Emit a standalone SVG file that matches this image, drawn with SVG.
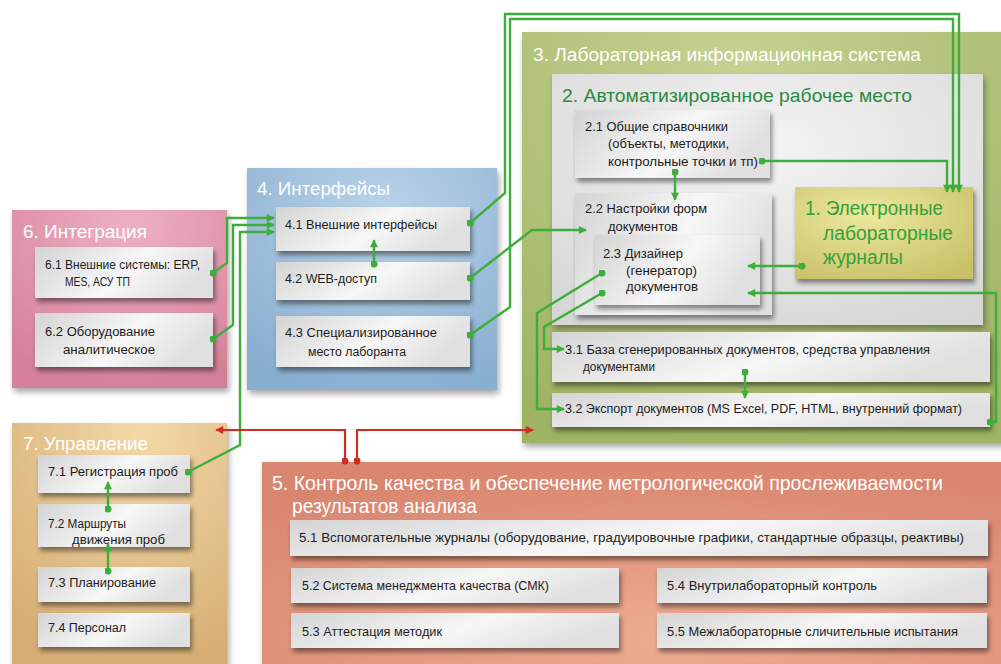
<svg xmlns="http://www.w3.org/2000/svg" width="1001" height="664" viewBox="0 0 1001 664">
<style>
text{font-family:"Liberation Sans",Arial,sans-serif}
.t{font-size:12px;fill:#1c1c1c}
.t5{font-size:13px;fill:#1c1c1c}
.ttl{font-size:18px;fill:#ffffff}
.g{fill:none;stroke:#3cae3a;stroke-width:2.4;stroke-linejoin:miter;marker-start:url(#dot);marker-end:url(#arr)}
.r{fill:none;stroke:#d42a22;stroke-width:2.2;marker-start:url(#rdot);marker-end:url(#rarr)}
.box{fill:url(#boxg);filter:url(#sh)}
.pan{filter:url(#psh)}
</style>
<defs>
<linearGradient id="boxg" x1="0" y1="0" x2="1" y2="0.3">
<stop offset="0" stop-color="#d4d4d4"/><stop offset="0.6" stop-color="#f7f7f7"/><stop offset="1" stop-color="#e0e0e0"/>
</linearGradient>
<radialGradient id="g3" cx="0.45" cy="0.1" r="0.9"><stop offset="0" stop-color="#c6d292"/><stop offset="1" stop-color="#9fb364"/></radialGradient>
<radialGradient id="g2" cx="0.5" cy="0.3" r="0.8"><stop offset="0" stop-color="#f4f4f4"/><stop offset="1" stop-color="#d6d6d6"/></radialGradient>
<radialGradient id="g4" cx="0.55" cy="0.2" r="0.85"><stop offset="0" stop-color="#b9d3e8"/><stop offset="1" stop-color="#88aed0"/></radialGradient>
<radialGradient id="g6" cx="0.55" cy="0.1" r="0.9"><stop offset="0" stop-color="#eeb0c2"/><stop offset="1" stop-color="#d48098"/></radialGradient>
<radialGradient id="g7" cx="0.6" cy="0.05" r="0.9"><stop offset="0" stop-color="#f3d9a8"/><stop offset="1" stop-color="#d6ae74"/></radialGradient>
<radialGradient id="g5" cx="0.55" cy="0.8" r="0.8"><stop offset="0" stop-color="#eeac92"/><stop offset="1" stop-color="#d98670"/></radialGradient>
<radialGradient id="g1" cx="0.4" cy="0.3" r="0.8"><stop offset="0" stop-color="#ece89e"/><stop offset="1" stop-color="#c9c168"/></radialGradient>
<filter id="sh" x="-10%" y="-20%" width="125%" height="150%"><feDropShadow dx="2" dy="4" stdDeviation="2.5" flood-color="#000" flood-opacity="0.45"/></filter>
<filter id="psh" x="-10%" y="-10%" width="125%" height="125%"><feDropShadow dx="2" dy="4" stdDeviation="3" flood-color="#000" flood-opacity="0.35"/></filter>
<marker id="arr" viewBox="0 0 10 10" refX="9" refY="5" markerUnits="userSpaceOnUse" markerWidth="9" markerHeight="8" orient="auto"><path d="M0,0 L10,5 L0,10 z" fill="#3cae3a"/></marker>
<marker id="dot" viewBox="0 0 10 10" refX="5" refY="5" markerUnits="userSpaceOnUse" markerWidth="7" markerHeight="7"><circle cx="5" cy="5" r="5" fill="#3cae3a"/></marker>
<marker id="rarr" viewBox="0 0 10 10" refX="9" refY="5" markerUnits="userSpaceOnUse" markerWidth="9" markerHeight="8" orient="auto"><path d="M0,0 L10,5 L0,10 z" fill="#d42a22"/></marker>
<marker id="rdot" viewBox="0 0 10 10" refX="5" refY="5" markerUnits="userSpaceOnUse" markerWidth="7" markerHeight="7"><circle cx="5" cy="5" r="5" fill="#d42a22"/></marker>
</defs>
<rect width="1001" height="664" fill="#ffffff"/>

<g id="panel3">
<rect class="pan" x="522" y="32" width="490" height="411" fill="url(#g3)"/>
<text class="ttl" x="533" y="61" textLength="388" lengthAdjust="spacingAndGlyphs">3. Лабораторная информационная система</text>
</g>
<g id="panel2">
<rect class="pan" x="552" y="74" width="431" height="251" fill="url(#g2)"/>
<text x="562" y="102" font-size="19" fill="#2b8a3e" textLength="350" lengthAdjust="spacingAndGlyphs">2. Автоматизированное рабочее место</text>
</g>
<g id="node2-1">
<rect class="box" x="575" y="110" width="195" height="68"/>
<text class="t" x="585" y="131" textLength="143" lengthAdjust="spacingAndGlyphs">2.1 Общие справочники</text>
<text class="t" x="608" y="148" textLength="121" lengthAdjust="spacingAndGlyphs">(объекты, методики,</text>
<text class="t" x="608" y="166" textLength="150" lengthAdjust="spacingAndGlyphs">контрольные точки и тп)</text>
</g>
<g id="node2-2">
<rect class="box" x="575" y="193" width="197" height="122"/>
<text class="t" x="585" y="213" textLength="122" lengthAdjust="spacingAndGlyphs">2.2 Настройки форм</text>
<text class="t" x="608" y="231" textLength="70" lengthAdjust="spacingAndGlyphs">документов</text>
</g>
<g id="node2-3">
<rect class="box" x="595" y="235" width="165" height="70"/>
<text class="t" x="603" y="258" textLength="80" lengthAdjust="spacingAndGlyphs">2.3 Дизайнер</text>
<text class="t" x="626" y="275" textLength="71" lengthAdjust="spacingAndGlyphs">(генератор)</text>
<text class="t" x="626" y="291" textLength="72" lengthAdjust="spacingAndGlyphs">документов</text>
</g>
<g id="node1">
<rect x="795" y="187" width="178" height="92" fill="url(#g1)" filter="url(#sh)"/>
<text x="805" y="215" font-size="20" fill="#34a03c" textLength="138" lengthAdjust="spacingAndGlyphs">1. Электронные</text>
<text x="823" y="240" font-size="20" fill="#34a03c" textLength="130" lengthAdjust="spacingAndGlyphs">лабораторные</text>
<text x="823" y="264" font-size="20" fill="#34a03c" textLength="80" lengthAdjust="spacingAndGlyphs">журналы</text>
</g>
<g id="node3-1">
<rect class="box" x="552" y="332" width="438" height="50"/>
<text class="t" x="565" y="354" textLength="365" lengthAdjust="spacingAndGlyphs">3.1 База сгенерированных документов, средства управления</text>
<text class="t" x="583" y="371" textLength="72" lengthAdjust="spacingAndGlyphs">документами</text>
</g>
<g id="node3-2">
<rect class="box" x="552" y="393" width="438" height="34"/>
<text class="t" x="565" y="413" textLength="397" lengthAdjust="spacingAndGlyphs">3.2 Экспорт документов (MS Excel, PDF, HTML, внутренний формат)</text>
</g>

<g id="panel4">
<rect class="pan" x="247" y="168" width="250" height="222" fill="url(#g4)"/>
<text class="ttl" x="257" y="195" textLength="133" lengthAdjust="spacingAndGlyphs">4. Интерфейсы</text>
</g>
<g id="node4-1"><rect class="box" x="276" y="207" width="194" height="44"/>
<text class="t" x="285" y="229" textLength="152" lengthAdjust="spacingAndGlyphs">4.1 Внешние интерфейсы</text></g>
<g id="node4-2"><rect class="box" x="276" y="262" width="194" height="38"/>
<text class="t" x="285" y="283" textLength="92" lengthAdjust="spacingAndGlyphs">4.2 WEB-доступ</text></g>
<g id="node4-3"><rect class="box" x="276" y="316" width="194" height="51"/>
<text class="t" x="285" y="337" textLength="152" lengthAdjust="spacingAndGlyphs">4.3 Специализированное</text>
<text class="t" x="308" y="356" textLength="98" lengthAdjust="spacingAndGlyphs">место лаборанта</text></g>

<g id="panel6">
<rect class="pan" x="12" y="210" width="215" height="178" fill="url(#g6)"/>
<text class="ttl" x="23" y="238" textLength="124" lengthAdjust="spacingAndGlyphs">6. Интеграция</text>
</g>
<g id="node6-1"><rect class="box" x="35" y="247" width="178" height="51"/>
<text class="t" x="45" y="269" textLength="155" lengthAdjust="spacingAndGlyphs">6.1 Внешние системы: ERP,</text>
<text class="t" x="65" y="286" textLength="65" lengthAdjust="spacingAndGlyphs">MES, АСУ ТП</text></g>
<g id="node6-2"><rect class="box" x="35" y="313" width="178" height="54"/>
<text class="t" x="45" y="336" textLength="110" lengthAdjust="spacingAndGlyphs">6.2 Оборудование</text>
<text class="t" x="63" y="354" textLength="92" lengthAdjust="spacingAndGlyphs">аналитическое</text></g>

<g id="panel7">
<rect class="pan" x="12" y="423" width="215" height="260" fill="url(#g7)"/>
<text class="ttl" x="23" y="450" textLength="125" lengthAdjust="spacingAndGlyphs">7. Управление</text>
</g>
<g id="node7-1"><rect class="box" x="38" y="455" width="152" height="38"/>
<text class="t" x="48" y="476" textLength="130" lengthAdjust="spacingAndGlyphs">7.1 Регистрация проб</text></g>
<g id="node7-2"><rect class="box" x="38" y="504" width="152" height="43"/>
<text class="t" x="48" y="528" textLength="78" lengthAdjust="spacingAndGlyphs">7.2 Маршруты</text>
<text class="t" x="72" y="544" textLength="93" lengthAdjust="spacingAndGlyphs">движения проб</text></g>
<g id="node7-3"><rect class="box" x="38" y="567" width="152" height="35"/>
<text class="t" x="48" y="587" textLength="108" lengthAdjust="spacingAndGlyphs">7.3 Планирование</text></g>
<g id="node7-4"><rect class="box" x="38" y="613" width="152" height="34"/>
<text class="t" x="48" y="632" textLength="78" lengthAdjust="spacingAndGlyphs">7.4 Персонал</text></g>

<g id="panel5">
<rect class="pan" x="262" y="462" width="750" height="220" fill="url(#g5)"/>
<text x="272" y="490" font-size="21" fill="#ffffff" textLength="671" lengthAdjust="spacingAndGlyphs">5. Контроль качества и обеспечение метрологической прослеживаемости</text>
<text x="292" y="513" font-size="21" fill="#ffffff" textLength="185" lengthAdjust="spacingAndGlyphs">результатов анализа</text>
</g>
<g id="node5-1"><rect class="box" x="290" y="520" width="698" height="36"/>
<text class="t5" x="299" y="542" textLength="665" lengthAdjust="spacingAndGlyphs">5.1 Вспомогательные журналы (оборудование, градуировочные графики, стандартные образцы, реактивы)</text></g>
<g id="node5-2"><rect class="box" x="291" y="568" width="328" height="35"/>
<text class="t5" x="302" y="590" textLength="247" lengthAdjust="spacingAndGlyphs">5.2 Система менеджмента качества (СМК)</text></g>
<g id="node5-3"><rect class="box" x="291" y="613" width="328" height="35"/>
<text class="t5" x="302" y="636" textLength="140" lengthAdjust="spacingAndGlyphs">5.3 Аттестация методик</text></g>
<g id="node5-4"><rect class="box" x="657" y="568" width="330" height="35"/>
<text class="t5" x="667" y="590" textLength="210" lengthAdjust="spacingAndGlyphs">5.4 Внутрилабораторный контроль</text></g>
<g id="node5-5"><rect class="box" x="657" y="613" width="330" height="35"/>
<text class="t5" x="667" y="636" textLength="291" lengthAdjust="spacingAndGlyphs">5.5 Межлабораторные сличительные испытания</text></g>

<g id="connectors">
<path class="g" d="M470,223 L505,193 L505,14 L959,14 L959,192"/>
<path class="g" d="M470,335 L510,307 L510,19 L953,19 L953,192"/>
<path class="g" d="M762,161 L947,161 L947,192"/>
<path class="g" d="M470,278 L532,230 L586,230"/>
<path class="g" d="M675,172 L675,200"/>
<path class="g" d="M802,266 L748,266"/>
<path class="g" d="M990,422 L996,422 L996,293 L748,293"/>
<path class="g" d="M602,273 L537,313 L537,409 L564,409"/>
<path class="g" d="M602,293 L544,327 L544,349 L564,349"/>
<path class="g" d="M745,372 L745,398"/>
<path class="g" d="M374,264 L374,240"/>
<path class="g" d="M213,273 L227,263 L227,218 L274,218"/>
<path class="g" d="M213,339 L233,325 L233,225 L274,225"/>
<path class="g" d="M188,472 L240,445 L240,232 L274,232"/>
<path class="g" d="M108,509 L108,482"/>
<path class="g" d="M108,571 L108,544"/>
<path class="r" d="M345,461 L345,430 L216,430"/>
<path class="r" d="M357,461 L357,430 L533,430"/>
</g>
</svg>
